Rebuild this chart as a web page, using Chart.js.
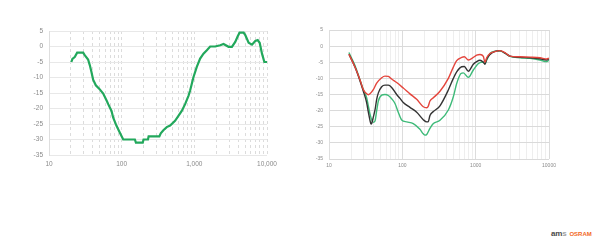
<!DOCTYPE html>
<html>
<head>
<meta charset="utf-8">
<script src="https://cdn.jsdelivr.net/npm/chart.js@4/dist/chart.umd.min.js"></script>
<style>
  body { margin: 0; background: #fff; width: 615px; height: 245px; overflow: hidden; position: relative; font-family: "Liberation Sans", Arial, sans-serif; }
  #left { position: absolute; left: 0; top: 0; }
  #right { position: absolute; left: 300px; top: 0; }
  #logo { position: absolute; left: 551px; top: 222px; white-space: nowrap; }
  #logo .ams { font-size: 8px; font-weight: bold; color: #4a4a4a; letter-spacing: -0.2px; }
  #logo .ams i { font-style: normal; color: #a0a0a0; }
  #logo .osram { font-size: 6px; font-weight: bold; color: #f26722; margin-left: 3px; }
</style>
</head>
<body>
<canvas id="left" width="300" height="200"></canvas>
<canvas id="right" width="315" height="200"></canvas>
<div id="logo"><span class="ams">am<i>s</i></span><span class="osram">OSRAM</span></div>
<script>
// left chart: single green response (Hz, dB)
const leftFreq = [20.3, 21, 22.6, 24.4, 29.5, 31, 34.5, 36.4, 38.4, 40.5, 44.1, 49, 55.7, 62, 65.3, 72.5, 76.3, 84.9, 94.5, 105,
  152, 157, 195, 200, 230, 235, 330, 345, 375, 417, 464, 543, 604, 671, 747, 830, 875, 972, 1081, 1202, 1336, 1486, 1652,
  1937, 2270, 2523, 2957, 3288, 3656, 3942, 4199, 4768, 5025, 5587, 6212, 6907, 7443, 7927, 8537, 9198, 10000];
const leftVals = [-5, -4, -3.4, -2, -2, -2.8, -4.2, -6, -8.2, -10.7, -12.5, -13.6, -15.2, -17.4, -18.6, -20.8, -22.9, -25.6, -27.8, -30,
  -30, -31, -31, -30, -30, -29, -29, -28, -27, -26, -25.5, -24, -22.4, -20.8, -18.6, -15.9, -14.2, -9.9, -6.6, -3.9, -2.3, -1.2, 0,
  0, 0.4, 0.8, -0.1, -0.1, 1.5, 3.2, 4.5, 4.5, 3.7, 1.2, 0.6, 1.8, 2.1, 1.2, -2.3, -5, -5];

// right chart: three responses
const redFreq = [18.7, 22.6, 26.5, 29.4, 32.6, 34.4, 36.2, 40.2, 44.7, 52.3, 58, 64.4, 71.5, 83.7, 103, 127, 157, 193, 215, 226, 238, 265,
  326, 424, 496, 551, 644, 700, 795, 929, 1032, 1146, 1273, 1340, 1413, 1568, 1835, 2147, 2513, 2941, 4025, 5510, 7540, 9290, 10000];
const redVals = [-2.5, -6.5, -10.5, -13.5, -14.8, -15.1, -14.8, -13.5, -11.5, -9.8, -9.3, -9.4, -10.2, -11.3, -13, -14.8, -16.5, -18.8, -19.1, -18.6, -17, -16,
  -14, -10, -6.5, -4.5, -3.5, -3.3, -4.3, -3.5, -2.8, -2.6, -3.2, -5, -3.6, -2.3, -1.7, -1.4, -2, -3.1, -3.3, -3.4, -3.6, -4, -3.7];

const blackFreq = [18.7, 22.6, 26.5, 29.4, 32.6, 34.4, 36.2, 37.4, 38.2, 40.2, 42.4, 44.7, 47.1, 52.3, 58, 64.4, 71.5, 83.7, 93, 103, 127, 157, 193,
  215, 226, 238, 265, 326, 424, 496, 551, 644, 700, 795, 929, 1032, 1146, 1273, 1340, 1413, 1568, 1835, 2147, 2513, 2941, 4025, 5510, 7540, 9290, 10000];
const blackVals = [-2.5, -6.5, -10.8, -14, -17.5, -20.5, -23, -24.2, -24, -22, -19.8, -16.5, -14.5, -12.6, -12.1, -12.1, -12.8, -15, -16.2, -17.5, -19, -20.5, -22.8,
  -23.5, -23.4, -21.5, -20.3, -18.5, -13.6, -10, -8, -6.4, -6.3, -7.8, -5.6, -4.8, -4.4, -5, -5.6, -4, -2.6, -1.6, -1.4, -2.2, -3.1, -3.5, -3.6, -3.9, -4.3, -3.9];

const greenFreq = [18.7, 22.6, 26.5, 29.4, 32.6, 34.4, 36.2, 38.2, 40.2, 42.4, 44.7, 47.1, 52.3, 58, 64.4, 71.5, 79.4, 88, 98, 115, 141, 174, 193, 204,
  215, 238, 265, 326, 424, 496, 551, 630, 679, 795, 929, 1090, 1273, 1340, 1413, 1568, 1835, 2147, 2513, 2941, 4025, 5510, 7540, 9290, 10000];
const greenVals = [-2, -6, -10.5, -13.5, -16, -18.5, -21, -22.8, -23.6, -23.2, -20, -17, -15.2, -15, -15.3, -16.3, -17.8, -20.5, -22.9, -23.5, -24, -25.8, -27.2, -27.6,
  -27.4, -25.5, -24, -23, -19.8, -15.7, -11.6, -8.5, -8.3, -9.7, -7.4, -5.4, -4.9, -5.5, -4.4, -2.3, -1.6, -1.5, -2.2, -3.2, -3.6, -3.8, -4.3, -4.8, -4.3];

// grid positions on the log axis
const gridTicks = [10, 20, 30, 40, 50, 60, 70, 80, 90, 100, 200, 300, 400, 500, 600, 700, 800, 900,
  1000, 2000, 3000, 4000, 5000, 6000, 7000, 8000, 9000, 10000];
const majorTicks = [10, 100, 1000, 10000];

function pts(xs, ys) {
  return xs.map((x, i) => ({ x: x, y: ys[i] }));
}

function logAxis(fontSize, fmt, gridColor, dash, pad) {
  return {
    type: "logarithmic",
    min: 10,
    max: 10000,
    afterBuildTicks: (s) => { s.ticks = gridTicks.map((v) => ({ value: v })); },
    afterFit: (s) => { s.height = 12; },
    ticks: {
      autoSkip: false,
      maxRotation: 0,
      padding: pad,
      color: "#8a8a8a",
      font: { size: fontSize, family: "'Liberation Sans', Arial, sans-serif" },
      callback: (v) => (majorTicks.includes(v) ? fmt(v) : ""),
    },
    grid: { color: gridColor, drawTicks: false },
    border: { display: false, dash: dash },
  };
}

function linAxis(fontSize, width, gridColor) {
  return {
    min: -35,
    max: 5,
    afterFit: (s) => { s.width = width; },
    ticks: {
      stepSize: 5,
      padding: 6,
      color: "#8a8a8a",
      font: { size: fontSize, family: "'Liberation Sans', Arial, sans-serif" },
    },
    grid: { color: gridColor, drawTicks: false },
    border: { display: true, color: "#dedede" },
  };
}

const baseOpts = {
  responsive: false,
  animation: false,
  devicePixelRatio: 1,
  plugins: { legend: { display: false }, tooltip: { enabled: false } },
  elements: { point: { radius: 0 } },
};

new Chart(document.getElementById("left").getContext("2d"), {
  type: "line",
  data: {
    datasets: [
      { data: pts(leftFreq, leftVals), borderColor: "#22a85c", borderWidth: 2.2, tension: 0, fill: false },
    ],
  },
  options: {
    ...baseOpts,
    layout: { padding: { left: 0, top: 31, right: 33, bottom: 33 } },
    scales: {
      x: logAxis(6.5, (v) => v.toLocaleString("en-US"), "#dcdcdc", [3, 3], 5),
      y: linAxis(6.5, 49, "#e8e8e8"),
    },
  },
});

new Chart(document.getElementById("right").getContext("2d"), {
  type: "line",
  data: {
    datasets: [
      { data: pts(redFreq, redVals), borderColor: "#e4453c", borderWidth: 1.4, cubicInterpolationMode: "monotone", fill: false },
      { data: pts(blackFreq, blackVals), borderColor: "#333333", borderWidth: 1.4, cubicInterpolationMode: "monotone", fill: false },
      { data: pts(greenFreq, greenVals), borderColor: "#3dba78", borderWidth: 1.4, cubicInterpolationMode: "monotone", fill: false },
    ],
  },
  options: {
    ...baseOpts,
    layout: { padding: { left: 0, top: 30, right: 66, bottom: 29 } },
    scales: {
      x: logAxis(5, (v) => String(v), (c) => (c.tick && majorTicks.includes(c.tick.value) ? "#dcdcdc" : "#eeeeee"), [], 4),
      y: linAxis(5, 29, "#dadada"),
    },
  },
});
</script>
</body>
</html>
